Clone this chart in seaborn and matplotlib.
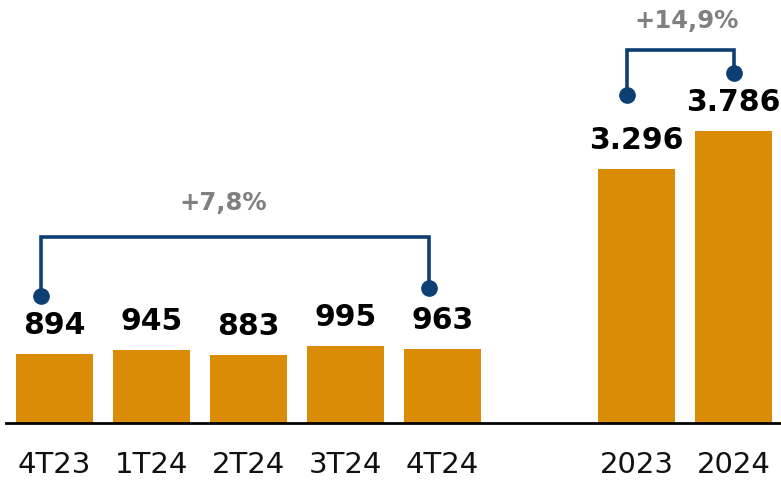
import matplotlib
matplotlib.use("Agg")
import matplotlib.pyplot as plt
import seaborn as sns
import pandas as pd

# ---- data ----
categories = ["4T23", "1T24", "2T24", "3T24", "4T24", "2023", "2024"]
values = [894, 945, 883, 995, 963, 3296, 3786]
value_labels = ["894", "945", "883", "995", "963", "3.296", "3.786"]
spacer = " "
order = categories[:5] + [spacer] + categories[5:]
growth_labels = ["+7,8%", "+14,9%"]
growth_pairs = [("4T23", "4T24"), ("2023", "2024")]

# ---- style ----
BAR = "#DB8C06"
BLUE = "#0D3F73"
GRAY = "#808080"

sns.set_theme(style="white")
plt.rcParams["font.family"] = ["DejaVu Sans"]

fig = plt.figure(figsize=(7.81, 4.82), dpi=100)
ax = fig.add_axes([6 / 781, 59 / 482, 776 / 781, 423 / 482])

df = pd.DataFrame({"cat": categories, "val": values})
sns.barplot(data=df, x="cat", y="val", order=order, color=BAR, width=0.8,
            saturation=1, ax=ax, edgecolor="none")

ax.set_xlim(-0.5, 7.5)
ax.set_ylim(0, 5490)
ax.set_xlabel("")
ax.set_ylabel("")
ax.set_yticks([])
for s in ["top", "right", "left"]:
    ax.spines[s].set_visible(False)
ax.spines["bottom"].set_color("black")
ax.spines["bottom"].set_linewidth(2)
ax.tick_params(axis="x", length=0, pad=20, labelsize=21, colors="#111111")

# value labels
for cont in ax.containers:
    ax.bar_label(cont, labels=value_labels, padding=10, fontsize=21.5,
                 fontweight="bold", color="black")

# brackets
pos = {c: i for i, c in enumerate(order)}
dot_offsets = [(755, 790), (960, 756)]
x_shift = [(-0.14, -0.14), (-0.1, 0.01)]
bar_levels = [2414, 4840]
text_levels = [2855, 5217]
text_shift = [-0.12, 0.06]
for (a, b), lab, (oa, ob), (sa, sb), lvl, tl, ts in zip(
        growth_pairs, growth_labels, dot_offsets, x_shift, bar_levels,
        text_levels, text_shift):
    xa, xb = pos[a] + sa, pos[b] + sb
    ya = values[categories.index(a)] + oa
    yb = values[categories.index(b)] + ob
    ax.plot([xa, xa, xb, xb], [ya, lvl, lvl, yb], color=BLUE, lw=2.6,
            solid_joinstyle="miter", zorder=3)
    ax.plot([xa, xb], [ya, yb], "o", color=BLUE, ms=11, zorder=4)
    ax.text((xa + xb) / 2 + ts, tl, lab, ha="center", va="center",
            fontsize=17.5, fontweight="bold", color=GRAY)

fig.savefig("out.png", dpi=100)
